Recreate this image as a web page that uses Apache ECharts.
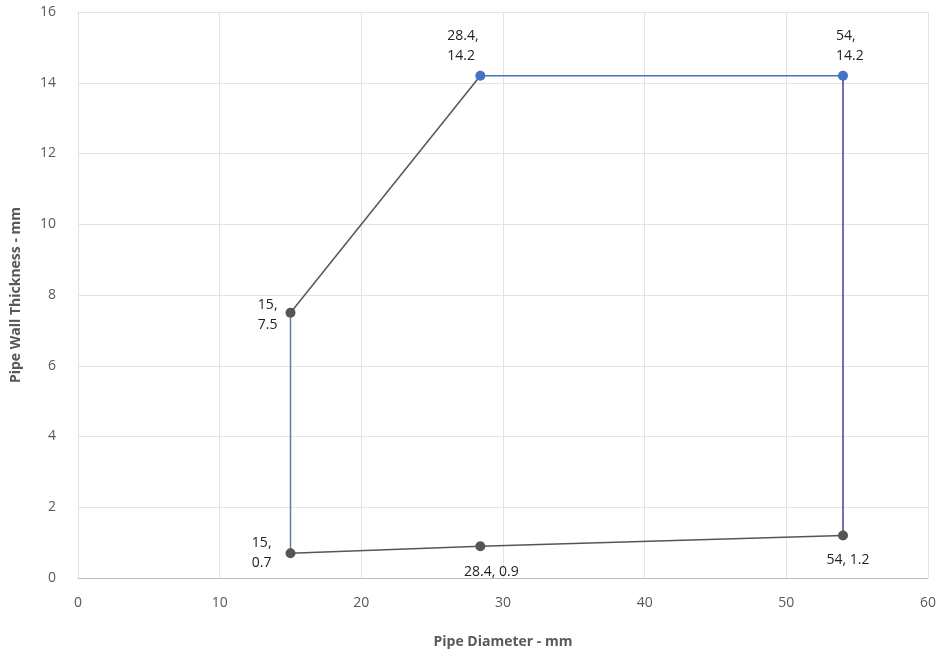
<!DOCTYPE html>
<html>
<head>
<meta charset="utf-8">
<script src="https://cdn.jsdelivr.net/npm/echarts@6/dist/echarts.min.js"></script>
<style>html,body{margin:0;padding:0;background:#fff}#c{width:943px;height:657px}</style>
</head>
<body>
<div id="c"></div>
<script>
// Data
const xTicks = [0, 10, 20, 30, 40, 50, 60];
const yTicks = [0, 2, 4, 6, 8, 10, 12, 14, 16];
const bottomX = [15, 28.4, 54];
const bottomY = [0.7, 0.9, 1.2];
const diagX = [15, 28.4];
const diagY = [7.5, 14.2];
const topX = [28.4, 54];
const topY = [14.2, 14.2];
const leftVertX = [15, 15];
const leftVertY = [0.7, 7.5];
const rightVertX = [54, 54];
const rightVertY = [1.2, 14.2];
const xName = 'Pipe Diameter - mm';
const yName = 'Pipe Wall Thickness - mm';

const gray = '#555555';
const blue = '#4472c4';
const pair = (xs, ys) => xs.map((x, i) => [x, ys[i]]);
const lblStyle = {color: '#222', fontSize: 14, fontFamily: '"Open Sans", sans-serif', lineHeight: 20};
const twoLine = p => p.value[0] + ',\n' + p.value[1];
const oneLine = p => p.value[0] + ', ' + p.value[1];

const bottomLabels = [
  {position: 'left', distance: 8, formatter: twoLine, offset: [-6, 0]},
  {position: 'bottom', distance: 11, formatter: oneLine, offset: [11, 0]},
  {position: 'bottom', distance: 9, formatter: oneLine, offset: [5, 0]}
];
const topLabels = [
  {position: 'top', distance: 5, formatter: twoLine, align: 'left', offset: [-33, 0]},
  {position: 'top', distance: 5, formatter: twoLine, align: 'left', offset: [-7, 0]}
];

const chart = echarts.init(document.getElementById('c'));
chart.setOption({
  animation: false,
  grid: {left: 78, right: 15, top: 12, bottom: 79},
  xAxis: {
    type: 'value', min: xTicks[0], max: xTicks[xTicks.length - 1], interval: 10,
    name: xName, nameLocation: 'middle', nameGap: 57,
    nameTextStyle: {color: '#595959', fontSize: 14, fontWeight: 'bold', fontFamily: '"Open Sans", sans-serif'},
    axisLine: {show: true, lineStyle: {color: '#bfbfbf'}},
    axisTick: {show: false},
    axisLabel: {color: '#595959', fontSize: 14, margin: 18, fontFamily: '"Open Sans", sans-serif'},
    splitLine: {show: true, lineStyle: {color: '#e3e3e3'}}
  },
  yAxis: {
    type: 'value', min: yTicks[0], max: yTicks[yTicks.length - 1], interval: 2,
    name: yName, nameLocation: 'middle', nameGap: 55,
    nameTextStyle: {color: '#595959', fontSize: 14, fontWeight: 'bold', fontFamily: '"Open Sans", sans-serif'},
    axisLine: {show: true, lineStyle: {color: '#e0e0e0'}},
    axisTick: {show: false},
    axisLabel: {color: '#595959', fontSize: 14, margin: 22, fontFamily: '"Open Sans", sans-serif'},
    splitLine: {show: true, lineStyle: {color: '#e3e3e3'}}
  },
  series: [
    {type: 'line', data: pair(leftVertX, leftVertY), symbol: 'none', lineStyle: {color: '#5b7fab', width: 1.5}, z: 1},
    {type: 'line', data: pair(rightVertX, rightVertY), symbol: 'none', lineStyle: {color: '#3f3f9c', width: 1.5}, z: 1},
    {type: 'line', symbol: 'circle', symbolSize: 10,
      lineStyle: {color: gray, width: 1.5}, itemStyle: {color: gray},
      data: pair(bottomX, bottomY).map((v, i) => ({value: v, label: {show: true, ...lblStyle, ...bottomLabels[i], align: i === 0 ? 'right' : 'center'}})),
      z: 3},
    {type: 'line', symbol: 'circle', symbolSize: 10,
      lineStyle: {color: gray, width: 1.5}, itemStyle: {color: gray},
      data: pair(diagX, diagY).map((v, i) => ({value: v, symbolSize: i === 0 ? 10 : 0,
        label: {show: i === 0, position: 'left', distance: 8, formatter: twoLine, align: 'right', offset: [0, 2], ...lblStyle}})),
      z: 2},
    {type: 'line', symbol: 'circle', symbolSize: 10,
      lineStyle: {color: blue, width: 1.5}, itemStyle: {color: blue},
      data: pair(topX, topY).map((v, i) => ({value: v, label: {show: true, ...lblStyle, ...topLabels[i]}})),
      z: 4}
  ]
});
</script>
</body>
</html>
